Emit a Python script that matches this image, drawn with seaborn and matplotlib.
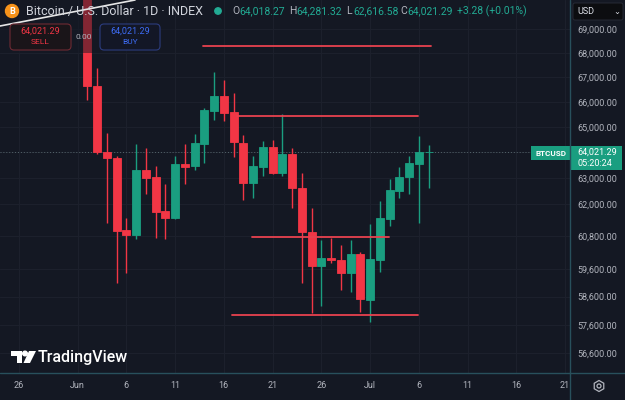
import pandas as pd
import numpy as np
import seaborn as sns
import matplotlib.pyplot as plt
import matplotlib.dates as mdates
import matplotlib.ticker as mticker
import matplotlib.transforms as mtransforms
from matplotlib.patches import FancyBboxPatch, Rectangle, Circle, Polygon, RegularPolygon
from matplotlib.lines import Line2D

# === Data ===
dates = pd.date_range("2024-06-02", "2024-07-07", freq="D")
opens = [70600, 66650, 64000, 63790, 61040, 60830, 63310, 63060, 61740, 61480,
         63550, 63470, 64340, 65640, 66240, 65580, 64380, 62830, 63440, 64220,
         63180, 63940, 62630, 60970, 59710, 60010, 59920, 59460, 60140, 58480,
         59920, 61440, 62500, 63060, 63550, 64018.27]
highs = [71000, 67375, 64750, 63850, 61470, 64310, 64160, 63470, 62760, 63850,
         64330, 64720, 65750, 67210, 66900, 66350, 64680, 63870, 64440, 64480,
         65510, 64160, 63180, 61850, 60670, 60730, 60470, 60670, 60200, 61260,
         62140, 62960, 63420, 63870, 64640, 64281.32]
lows = [66080, 63950, 61280, 59070, 59440, 60690, 62390, 60730, 60690, 61450,
        62770, 63300, 63570, 65280, 65220, 63830, 62160, 62240, 63090, 63150,
        63090, 61850, 59070, 58010, 58260, 59820, 58830, 58770, 58050, 57690,
        59490, 61180, 62240, 62400, 61280, 62616.58]
closes = [66650, 64000, 63790, 61000, 60830, 63310, 63020, 61720, 61480, 63550,
          63440, 64380, 65680, 66260, 65550, 64390, 62830, 63470, 64220, 63180,
          63940, 62630, 60970, 59690, 60010, 59910, 59460, 60140, 58500, 59950,
          61470, 62540, 63060, 63570, 64018.27, 64021.29]

# horizontal levels drawn on the chart
levels = [68320, 65440, 60760, 57950]
level_start = ["2024-06-13 21:00", "2024-06-17 08:00", "2024-06-18 22:00", "2024-06-16 20:00"]
level_end = ["2024-07-07 05:00", "2024-07-05 22:00", "2024-07-02 23:00", "2024-07-05 23:00"]

price_ticks = [69000, 68000, 67000, 66000, 65000, 64000, 63000, 62000,
               60800, 59600, 58600, 57600, 56600]
date_ticks = ["2024-05-26", "2024-06-01", "2024-06-06", "2024-06-11", "2024-06-16",
              "2024-06-21", "2024-06-26", "2024-07-01", "2024-07-06", "2024-07-11",
              "2024-07-16", "2024-07-21"]
date_labels = ["26", "Jun", "6", "11", "16", "21", "26", "Jul", "6", "11", "16", "21"]

last_price = "64,021.29"
countdown = "05:20:24"

# === Style ===
BG = "#141823"
GRID = "#1c202c"
TXT = "#b2b5be"
UP = "#1a9e80"
DOWN = "#f23645"
SEP = "#28505c"

sns.set_theme(style="dark", rc={
    "axes.facecolor": BG, "figure.facecolor": BG,
    "grid.color": GRID, "axes.grid": True,
})
plt.rcParams["font.family"] = ["Roboto", "DejaVu Sans"]

fig = plt.figure(figsize=(6.25, 4), dpi=100)
ax = fig.add_axes([0, 27 / 400, 570 / 625, 373 / 400])
ax.set_facecolor(BG)

# pixel coordinates, origin top-left
pix = mtransforms.Affine2D().scale(1 / 625, -1 / 400).translate(0, 1) + fig.transFigure

x = mdates.date2num(dates)
o = np.array(opens); c = np.array(closes)
cols = [UP if cc >= oo else DOWN for oo, cc in zip(o, c)]

ax.set_yscale("log")
ax.vlines(x, lows, highs, colors=cols, lw=1.0, zorder=3)
ax.bar(x, np.abs(c - o), bottom=np.minimum(o, c), width=0.82,
       color=cols, edgecolor=cols, lw=0.6, zorder=4)

lv = pd.DataFrame({
    "t": np.concatenate([mdates.date2num(pd.to_datetime(level_start)),
                         mdates.date2num(pd.to_datetime(level_end))]),
    "price": levels + levels,
    "id": list(range(len(levels))) * 2,
})
sns.lineplot(data=lv, x="t", y="price", units="id", estimator=None,
             color="#e8424f", lw=1.3, ax=ax, zorder=5)

ax.axhline(closes[-1], ls=(0, (1, 2)), color="#55656b", lw=0.7, zorder=2)

jun1 = mdates.date2num(pd.Timestamp("2024-06-01"))
ax.set_xlim(jun1 - 7.95, jun1 + 50.51)
ax.set_ylim(55925, 70247)

ax.yaxis.set_minor_locator(mticker.NullLocator())
ax.set_yticks(price_ticks)
ax.set_yticklabels([f"{v:,.2f}" for v in price_ticks])
ax.yaxis.tick_right()
ax.set_xticks(mdates.date2num(pd.to_datetime(date_ticks)))
ax.set_xticklabels(date_labels)
ax.tick_params(axis="y", length=0, pad=5, labelsize=6.5, labelcolor=TXT)
ax.tick_params(axis="x", length=0, pad=6, labelsize=6.5, labelcolor=TXT)
ax.grid(True, color=GRID, lw=0.8)
ax.set_xlabel(""); ax.set_ylabel("")
for s in ax.spines.values():
    s.set_visible(False)

# separators
fig.add_artist(Line2D([570, 570], [0, 400], transform=pix, color=SEP, lw=1.0, zorder=6))
fig.add_artist(Line2D([0, 625], [373, 373], transform=pix, color=SEP, lw=1.0, zorder=6))

# dim the legend area
fig.add_artist(Rectangle((0, 0), 175, 53, transform=pix, color=BG, alpha=0.5, lw=0, zorder=1))
fig.add_artist(Line2D([0, 135], [26, 0], transform=pix, color="#e6e6e6", lw=1.2, zorder=2))

# header
fig.add_artist(Circle((12, 11), 6.5, transform=pix, color="#f7931a", zorder=3))
fig.text(12, 11.5, "B", transform=pix, color="white", fontsize=6.5, weight="bold",
         ha="center", va="center", zorder=4)
fig.text(26, 11, "Bitcoin / U.S. Dollar · 1D · INDEX", transform=pix, color="#d1d4dc",
         fontsize=9, va="center")
fig.add_artist(Circle((218, 11), 3.2, transform=pix, color="#22ab94", zorder=3))
ohlc = [("O", "64,018.27", 232), ("H", "64,281.32", 289), ("L", "62,616.58", 346),
        ("C", "64,021.29", 400)]
for letter, val, xx in ohlc:
    fig.text(xx, 11, letter, transform=pix, color=TXT, fontsize=7.5, va="center")
    fig.text(xx + 7, 11, val, transform=pix, color="#22ab94", fontsize=7.5, va="center")
fig.text(457, 11, "+3.28 (+0.01%)", transform=pix, color="#22ab94", fontsize=7.5, va="center")

# sell / buy boxes
fig.add_artist(FancyBboxPatch((10, 24), 61, 26, boxstyle="round,pad=0,rounding_size=4",
                              transform=pix, fc="#1a1519", ec="#6e2a33", lw=0.8, zorder=3))
fig.text(40.5, 31, last_price, transform=pix, color=DOWN, fontsize=6.5, ha="center", va="center")
fig.text(40.5, 42.5, "SELL", transform=pix, color=DOWN, fontsize=6, ha="center", va="center")
fig.text(84, 37, "0.00", transform=pix, color=TXT, fontsize=6, ha="center", va="center")
fig.add_artist(FancyBboxPatch((100, 24), 60, 26, boxstyle="round,pad=0,rounding_size=4",
                              transform=pix, fc="#131726", ec="#2c3c7e", lw=0.8, zorder=3))
fig.text(130, 31, last_price, transform=pix, color="#3d6cf5", fontsize=6.5, ha="center", va="center")
fig.text(130, 42.5, "BUY", transform=pix, color="#3d6cf5", fontsize=6, ha="center", va="center")

# currency box
fig.add_artist(FancyBboxPatch((573, 3), 50, 17, boxstyle="round,pad=0,rounding_size=2",
                              transform=pix, fc="#0c0d10", ec="#2a2e39", lw=0.6, zorder=3))
fig.text(577, 11.5, "USD", transform=pix, color="#e0e3eb", fontsize=6.5, va="center")
fig.text(617, 11.5, "⌄", transform=pix, color="#e0e3eb", fontsize=6, ha="center", va="center",
         family=["DejaVu Sans"])

# price labels
fig.add_artist(Rectangle((531, 146), 39, 14, transform=pix, color="#1a9e80", lw=0, zorder=3))
fig.text(550.5, 153, "BTCUSD", transform=pix, color="white", fontsize=5.8, weight="bold",
         ha="center", va="center")
fig.add_artist(Rectangle((570, 146), 52, 24, transform=pix, color="#1a9e80", lw=0, zorder=3))
fig.text(577, 152.5, last_price, transform=pix, color="white", fontsize=6.5, va="center")
fig.text(577, 163.5, countdown, transform=pix, color="white", fontsize=6.5, va="center")

# TradingView logo
fig.add_artist(Polygon([(11, 351), (22, 351), (22, 363), (16.5, 363), (16.5, 356), (11, 356)],
                       transform=pix, color="white", lw=0, zorder=3))
fig.add_artist(Circle((25, 353.5), 2.3, transform=pix, color="white", zorder=3))
fig.add_artist(Polygon([(29, 351), (36, 351), (30, 363), (23.5, 363)],
                       transform=pix, color="white", lw=0, zorder=3))
fig.text(38, 357.5, "TradingView", transform=pix, color="white", fontsize=11.5, weight="medium",
         va="center")

# settings icon
fig.add_artist(RegularPolygon((599, 386), 6, radius=5.5, transform=pix, fill=False,
                              ec=TXT, lw=0.9, zorder=3))
fig.add_artist(Circle((599, 386), 2, transform=pix, fill=False, ec=TXT, lw=0.9, zorder=3))

plt.savefig("out.png", dpi=100, facecolor=BG)
